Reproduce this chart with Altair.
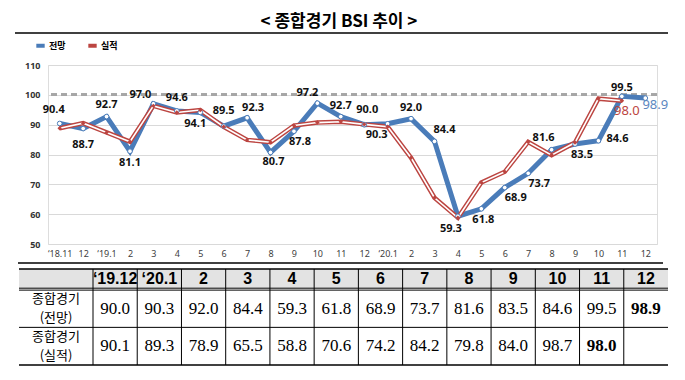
import json
import altair as alt
import pandas as pd

# ---------------- data ----------------
title_text = "< 종합경기 BSI 추이 >"
series_names = ["전망", "실적"]
tick_labels = ["‘18.11", "12", "‘19.1", "2", "3", "4", "5", "6", "7", "8", "9", "10", "11", "12",
               "‘20.1", "2", "3", "4", "5", "6", "7", "8", "9", "10", "11", "12"]
forecast = [90.4, 88.7, 92.7, 81.1, 97.0, 94.6, 94.1, 89.5, 92.3, 80.7, 87.8, 97.2, 92.7,
            90.0, 90.3, 92.0, 84.4, 59.3, 61.8, 68.9, 73.7, 81.6, 83.5, 84.6, 99.5, 98.9]
actual = [88.8, 90.5, 87.4, 84.3, 96.3, 94.1, 94.9, 89.3, 84.9, 84.1, 89.7, 90.7, 91.0,
          90.1, 89.3, 78.9, 65.5, 58.8, 70.6, 74.2, 84.2, 79.8, 84.0, 98.7, 98.0]
y_ticks = [50, 60, 70, 80, 90, 100, 110]
table_header = ["‘19.12", "‘20.1", "2", "3", "4", "5", "6", "7", "8", "9", "10", "11", "12"]
row_labels = ["종합경기\n(전망)", "종합경기\n(실적)"]

# label placement offsets (pixels) for the forecast value labels
label_dx = [-6, 0, 0, 0, -13, 0, -5, 0, 6, 3, 6, -10, 0, 3, -11, 0, 10, -7, 2, 11, 11, -8, 7, 19, 0, 10]
label_dy = [-13, 16, -12, 12, -9, -13, 12, -15, -10, 10, 11, -10, -11, -15, 11, -11, -11, 13, 11, 10, 11, -12, 11, -2, -8, 7]

# ---------------- styles ----------------
BLUE = "#4A7CB9"
BLUE_TXT = "#5B87C0"
RED = "#BC4541"
W, H = 609, 179
Y_MIN, Y_MAX = 50, 110
PX2UNIT = (Y_MAX - Y_MIN) / H
KFONT = "Noto Sans CJK KR"
NFONT = "Noto Sans"

n = len(tick_labels)
rows = []
for i, v in enumerate(forecast):
    rows.append({"idx": i, "value": v, "series": series_names[0]})
for i, v in enumerate(actual):
    rows.append({"idx": i, "value": v, "series": series_names[1]})
df = pd.DataFrame(rows)

lab = pd.DataFrame({"idx": list(range(n)), "value": forecast, "dx": label_dx, "dy": label_dy})
lab["last"] = lab["idx"] == n - 1

x_enc = alt.X(
    "idx:O",
    scale=alt.Scale(type="point", domain=list(range(n)), padding=0.5),
    axis=alt.Axis(
        labelExpr=json.dumps(tick_labels, ensure_ascii=False) + "[datum.value]",
        labelAngle=0, domain=False, ticks=False, grid=False, labelPadding=5,
        labelFontSize=9, labelColor="#404040", labelFont=NFONT, title=None,
        labelOverlap=False,
    ),
)
y_scale = alt.Scale(domain=[Y_MIN, Y_MAX], nice=False, zero=False)
y_axis = alt.Axis(
    values=y_ticks, tickCount=len(y_ticks), grid=True, gridColor="#d9d9d9",
    domain=False, ticks=False, labelPadding=8, labelFontSize=9, labelOverlap=False,
    labelFontWeight="bold", labelColor="#333333", labelFont=NFONT, title=None,
)
y_enc = alt.Y("value:Q", scale=y_scale, axis=y_axis)
color_enc = alt.Color(
    "series:N",
    scale=alt.Scale(domain=series_names, range=[BLUE, RED]),
    legend=alt.Legend(
        orient="none", legendX=-14, legendY=-26, direction="horizontal", title=None,
        symbolType="stroke", symbolStrokeWidth=4, symbolSize=70,
        labelFontSize=9, labelFontWeight="bold", labelFont=KFONT,
        columnPadding=14, labelOffset=2,
    ),
)

base = alt.Chart(df).encode(x=x_enc, y=y_enc)
is_f = alt.datum.series == series_names[0]
is_a = alt.datum.series == series_names[1]

ref100 = alt.Chart(df).mark_rule(strokeDash=[6, 4], color="#a6a6a6", strokeWidth=2).encode(
    y=alt.Y(datum=100, scale=y_scale, axis=y_axis))
blue_line = base.transform_filter(is_f).mark_line(strokeWidth=5).encode(color=color_enc)
red_line = base.transform_filter(is_a).mark_line(strokeWidth=4.5).encode(color=color_enc)
red_inner = base.transform_filter(is_a).mark_line(strokeWidth=1.6, color="white")
blue_pts = base.transform_filter(is_f).mark_point(
    shape="circle", filled=True, fill="white", stroke=BLUE, strokeWidth=1, size=22, opacity=1)
red_pts = base.transform_filter(is_a).mark_point(
    shape="diamond", filled=True, color=RED, size=20, opacity=1)

label_y = alt.Y("ly:Q", scale=y_scale, axis=y_axis)
lab_base = alt.Chart(lab).transform_calculate(
    ly=f"datum.value - datum.dy * {PX2UNIT}"
).encode(
    x=x_enc, y=label_y,
    xOffset=alt.XOffset("dx:Q", scale=None),
    text=alt.Text("value:Q", format=".1f"),
)
labels_black = lab_base.transform_filter("!datum.last").mark_text(
    fontSize=11, fontWeight="bold", font=NFONT, color="#111111", baseline="middle")
labels_blue = lab_base.transform_filter("datum.last").mark_text(
    fontSize=13, font=NFONT, color=BLUE_TXT, baseline="middle")

red_lab = pd.DataFrame({"idx": [len(actual) - 1], "value": [actual[-1]], "dx": [5], "dy": [10]})
label_red = alt.Chart(red_lab).transform_calculate(
    ly=f"datum.value - datum.dy * {PX2UNIT}"
).mark_text(fontSize=13, font=NFONT, color=RED, baseline="middle").encode(
    x=x_enc, y=label_y,
    xOffset=alt.XOffset("dx:Q", scale=None),
    text=alt.Text("value:Q", format=".1f"),
)

chart_layer = alt.layer(ref100, blue_line, red_line, red_inner, blue_pts, red_pts,
                        labels_black, labels_blue, label_red)

# ---------------- table ----------------
LW = 74 / 44.23  # width of the label column in units of a value column
ncol = len(table_header)
tx = alt.Scale(domain=[-LW, ncol], range=[-29, 620], nice=False, zero=False)
ty = alt.Scale(domain=[0, 2.5], range=[204, 300], nice=False, zero=False)
LINE_GAP = 0.2474  # half distance between the two lines of a row label (row units)

table_forecast = forecast[n - ncol:]
table_actual = actual[n - ncol:]
cells = []
for i, h in enumerate(table_header):
    cells.append({"xc": i + 0.5, "yc": 0.27, "text": h, "kind": "header"})
for ri, (vals, yc, lc) in enumerate([(table_forecast, 1.05, 1.029), (table_actual, 2.0, 2.018)]):
    l1, l2 = row_labels[ri].split("\n")
    cells.append({"xc": -LW / 2, "yc": lc - LINE_GAP, "text": l1, "kind": "rowlabel"})
    cells.append({"xc": -LW / 2, "yc": lc + LINE_GAP, "text": l2, "kind": "rowlabel"})
    for i, v in enumerate(vals):
        kind = "bold" if i == len(vals) - 1 else "value"
        cells.append({"xc": i + 0.5, "yc": yc, "text": f"{v:.1f}", "kind": kind})
cells = pd.DataFrame(cells)

tbase = alt.Chart(cells).encode(
    x=alt.X("xc:Q", scale=tx, axis=None),
    y=alt.Y("yc:Q", scale=ty, axis=None),
    text="text:N",
)
t_header = tbase.transform_filter(alt.datum.kind == "header").mark_text(
    font="Liberation Sans", fontWeight="bold", fontSize=16, color="black", baseline="middle")
t_vals = tbase.transform_filter(alt.datum.kind == "value").mark_text(
    font="Liberation Sans Narrow", fontSize=17, color="black", baseline="middle")
t_bold = tbase.transform_filter(alt.datum.kind == "bold").mark_text(
    font="Liberation Sans Narrow", fontWeight="bold", fontSize=17, color="black", baseline="middle")
t_rowlab = tbase.transform_filter(alt.datum.kind == "rowlabel").mark_text(
    font=KFONT, fontSize=13, color="black", baseline="middle")

dummy = pd.DataFrame({"k": [0]})
header_fill = alt.Chart(dummy).mark_rect(color="#e3e3e3").encode(
    x=alt.X(datum=-LW, scale=tx, axis=None), x2=alt.datum(ncol),
    y=alt.Y(datum=0, scale=ty, axis=None), y2=alt.datum(0.5))
hlines = pd.DataFrame({"y": [0, 0.5, 0.55, 1.52, 2.5], "w": [1.6, 1, 1, 1, 1.6]})
t_hlines = alt.Chart(hlines).mark_rule(color="black").encode(
    x=alt.X(datum=-LW, scale=tx, axis=None), x2=alt.datum(ncol),
    y=alt.Y("y:Q", scale=ty, axis=None),
    strokeWidth=alt.StrokeWidth("w:Q", scale=None))
vlines = pd.DataFrame({"x": list(range(ncol))})
t_vlines = alt.Chart(vlines).mark_rule(color="black", strokeWidth=1).encode(
    x=alt.X("x:Q", scale=tx, axis=None),
    y=alt.Y(datum=0, scale=ty, axis=None), y2=alt.datum(2.5))

table_layer = alt.layer(header_fill, t_hlines, t_vlines, t_header, t_vals, t_bold, t_rowlab)

# ---------------- decorations ----------------
title = alt.Chart(pd.DataFrame({"t": [title_text]})).mark_text(
    font=KFONT, fontSize=17, fontWeight="bold", color="black", align="center", baseline="alphabetic"
).encode(text="t:N", x=alt.value(291), y=alt.value(-38))
top_rule = alt.Chart(dummy).mark_rule(color="black", strokeWidth=1.5).encode(
    x=alt.value(-33), x2=alt.value(620), y=alt.value(-32))
bottom_rule = alt.Chart(dummy).mark_rule(color="black", strokeWidth=1.5).encode(
    x=alt.value(-30), x2=alt.value(615), y=alt.value(198))

chart = alt.layer(chart_layer, table_layer, title, top_rule, bottom_rule).resolve_scale(
    x="independent", y="independent"
).properties(
    width=W, height=H,
    autosize=alt.AutoSizeParams(type="none"),
    padding={"left": 40, "top": 57, "right": 16, "bottom": 128},
).configure_view(strokeWidth=0).configure_axis(labelOverlap=False).configure(
    font=NFONT, background="white")

chart.save("out.html", embed_options={"renderer": "svg", "actions": False})
